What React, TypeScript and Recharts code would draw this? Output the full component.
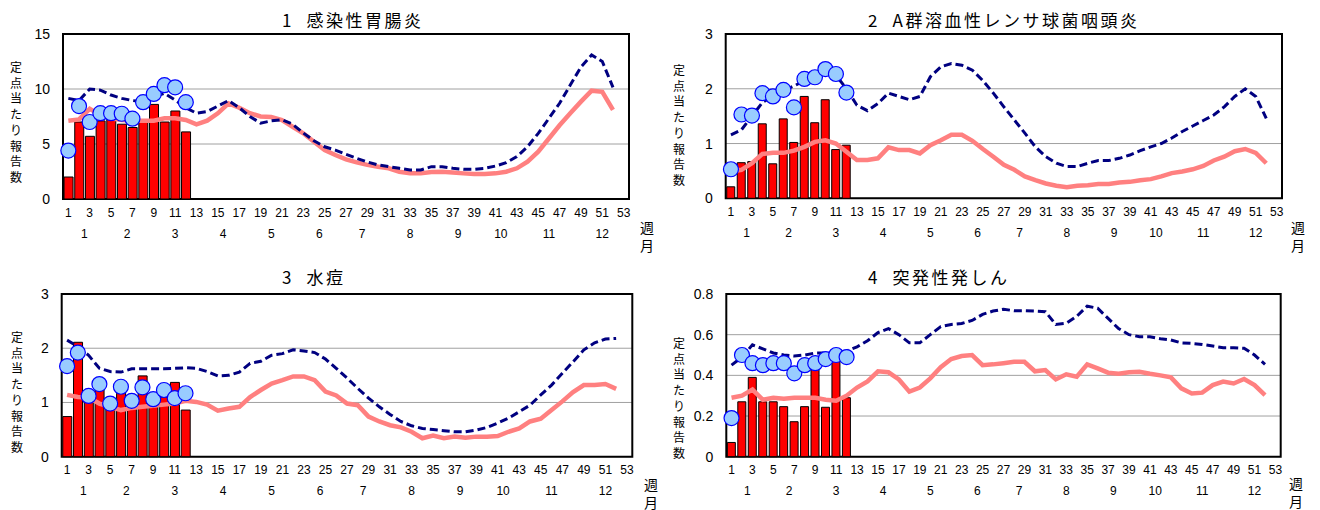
import React from "react";
import {
  ComposedChart, Bar, Line, XAxis, YAxis, CartesianGrid, ReferenceArea,
} from "recharts";

// week categories and month tick positions (centre of each month's weeks)
const weeks = Array.from({ length: 53 }, (_, i) => i + 1);
const monthTicks = [2.5, 6.5, 11, 15.5, 20, 24.5, 28.5, 33, 37.5, 41.5, 46, 51];
const monthLabels = ["1", "2", "3", "4", "5", "6", "7", "8", "9", "10", "11", "12"];

// 1 感染性胃腸炎
const gastroBars = [2.0, 7.0, 5.7, 7.1, 7.3, 6.8, 6.5, 7.0, 8.6, 7.0, 8.0, 6.1];
const gastroDots = [4.4, 8.45, 7.0, 7.8, 7.8, 7.75, 7.3, 8.8, 9.55, 10.35, 10.15, 8.8];
const gastroDashed = [
  9.15, 8.95, 10.0, 9.9, 9.45, 9.15, 8.95, 8.85, 9.3, 9.6, 9.0, 8.3, 7.8, 7.95, 8.45, 8.95,
  8.3, 7.5, 6.9, 7.1, 7.2, 6.8, 6.0, 5.3, 4.75, 4.45, 4.06, 3.7, 3.36, 3.1, 2.94, 2.79,
  2.64, 2.64, 2.94, 2.94, 2.79, 2.7, 2.7, 2.79, 3.0, 3.3, 3.85, 4.75, 5.97, 7.33, 8.7, 10.36,
  12.0, 13.1, 12.5, 10.15,
];
const gastroPink = [
  7.12, 7.24, 8.2, 7.64, 7.33, 7.18, 7.12, 7.12, 7.12, 7.33, 7.33, 7.18, 6.79, 7.12, 7.79, 8.7,
  8.3, 7.8, 7.5, 7.45, 7.18, 6.57, 5.97, 5.2, 4.45, 4.0, 3.6, 3.33, 3.1, 2.94, 2.79, 2.48,
  2.33, 2.33, 2.45, 2.48, 2.4, 2.33, 2.27, 2.27, 2.33, 2.48, 2.79, 3.4, 4.3, 5.5, 6.7, 7.8,
  8.85, 9.85, 9.75, 8.1,
];

// 2 A群溶血性レンサ球菌咽頭炎
const strepBars = [0.21, 0.65, 0.67, 1.36, 0.63, 1.45, 1.02, 1.86, 1.38, 1.8, 0.89, 0.97];
const strepDots = [0.53, 1.53, 1.51, 1.92, 1.86, 1.98, 1.66, 2.18, 2.21, 2.36, 2.27, 1.93];
const strepDashed = [
  1.16, 1.25, 1.5, 1.75, 1.87, 1.97, 2.05, 2.15, 2.2, 2.3, 2.25, 2.0, 1.7, 1.6, 1.73, 1.92,
  1.86, 1.8, 1.86, 2.22, 2.4, 2.46, 2.43, 2.34, 2.15, 1.92, 1.67, 1.43, 1.19, 0.94, 0.76, 0.64,
  0.58, 0.58, 0.64, 0.69, 0.69, 0.73, 0.79, 0.87, 0.94, 1.0, 1.1, 1.22, 1.32, 1.42, 1.52, 1.67,
  1.86, 2.0, 1.86, 1.46,
];
const strepPink = [
  0.49, 0.52, 0.64, 0.81, 0.83, 0.83, 0.87, 0.94, 1.03, 1.06, 1.0, 0.85, 0.7, 0.7, 0.73, 0.93,
  0.88, 0.88, 0.82, 0.97, 1.06, 1.16, 1.16, 1.05, 0.9, 0.76, 0.61, 0.52, 0.4, 0.33, 0.27, 0.23,
  0.2, 0.23, 0.24, 0.26, 0.26, 0.29, 0.3, 0.33, 0.35, 0.4, 0.46, 0.49, 0.53, 0.59, 0.69, 0.76,
  0.86, 0.9, 0.83, 0.64,
];

// 3 水痘
const varicellaBars = [0.74, 2.11, 1.04, 1.23, 0.95, 1.17, 1.01, 1.49, 1.01, 1.1, 1.37, 0.86];
const varicellaDots = [1.67, 1.92, 1.12, 1.34, 0.98, 1.29, 1.03, 1.28, 1.06, 1.23, 1.08, 1.17];
const varicellaDashed = [
  2.15, 2.03, 1.87, 1.63, 1.57, 1.56, 1.62, 1.62, 1.62, 1.62, 1.63, 1.64, 1.63, 1.57, 1.49, 1.5,
  1.56, 1.72, 1.76, 1.87, 1.9, 1.97, 1.95, 1.92, 1.8, 1.63, 1.45, 1.26, 1.08, 0.92, 0.78, 0.65,
  0.57, 0.52, 0.5, 0.48, 0.46, 0.46, 0.49, 0.54, 0.62, 0.71, 0.83, 0.95, 1.14, 1.32, 1.54, 1.75,
  1.97, 2.1, 2.17, 2.18,
];
const varicellaPink = [
  1.14, 1.1, 1.09, 0.98, 0.92, 0.86, 0.9, 0.92, 0.94, 0.96, 0.98, 1.03, 1.01, 0.96, 0.85, 0.89,
  0.92, 1.1, 1.23, 1.35, 1.41, 1.48, 1.48, 1.41, 1.2, 1.13, 0.98, 0.95, 0.74, 0.65, 0.58, 0.54,
  0.46, 0.34, 0.39, 0.34, 0.37, 0.35, 0.37, 0.37, 0.38, 0.46, 0.52, 0.65, 0.7, 0.86, 1.02, 1.19,
  1.32, 1.32, 1.34, 1.25,
];

// 4 突発性発しん
const exanthemBars = [0.07, 0.27, 0.39, 0.27, 0.27, 0.246, 0.172, 0.246, 0.45, 0.243, 0.47, 0.29];
const exanthemDots = [0.19, 0.5, 0.46, 0.45, 0.46, 0.46, 0.41, 0.45, 0.46, 0.48, 0.5, 0.49];
const exanthemDashed = [
  0.45, 0.49, 0.55, 0.53, 0.51, 0.5, 0.495, 0.5, 0.51, 0.51, 0.51, 0.52, 0.54, 0.57, 0.61, 0.63,
  0.6, 0.56, 0.56, 0.6, 0.64, 0.65, 0.655, 0.67, 0.7, 0.716, 0.725, 0.718, 0.718, 0.716, 0.713, 0.65,
  0.656, 0.69, 0.74, 0.73, 0.68, 0.63, 0.6, 0.59, 0.59, 0.58, 0.574, 0.56, 0.557, 0.552, 0.544, 0.536,
  0.536, 0.533, 0.5, 0.454,
];
const exanthemPink = [
  0.29, 0.3, 0.33, 0.28, 0.29, 0.285, 0.29, 0.29, 0.29, 0.28, 0.275, 0.3, 0.34, 0.37, 0.42, 0.415,
  0.38, 0.32, 0.34, 0.385, 0.44, 0.48, 0.495, 0.5, 0.45, 0.454, 0.46, 0.467, 0.467, 0.42, 0.426, 0.38,
  0.405, 0.393, 0.454, 0.434, 0.413, 0.408, 0.415, 0.418, 0.408, 0.4, 0.39, 0.336, 0.311, 0.315, 0.352, 0.369,
  0.36, 0.382, 0.352, 0.303,
];

const yLabel = "定点当たり報告数";
const uiFont = "'Noto Sans CJK JP', 'Noto Sans', sans-serif";
const numFont = "'Liberation Sans', Arial, sans-serif";

const panels = [
  {
    title: "1  感染性胃腸炎", bars: gastroBars, dots: gastroDots, dashed: gastroDashed, pink: gastroPink,
    yMax: 15, yTicks: [0, 5, 10, 15],
    left: 0, top: 0, axisW: 63, margin: { top: 34, right: 31, left: 0, bottom: 16 },
    titleAt: [282, 20], labelAt: [16, 67], unitAt: [647, 227],
  },
  {
    title: "2  A群溶血性レンサ球菌咽頭炎", bars: strepBars, dots: strepDots, dashed: strepDashed, pink: strepPink,
    yMax: 3, yTicks: [0, 1, 2, 3],
    left: 660, top: 0, axisW: 65.7, margin: { top: 34, right: 38, left: 0, bottom: 16.7 },
    titleAt: [868, 20], labelAt: [679, 70], unitAt: [1298, 227],
  },
  {
    title: "3  水痘", bars: varicellaBars, dots: varicellaDots, dashed: varicellaDashed, pink: varicellaPink,
    yMax: 3, yTicks: [0, 1, 2, 3],
    left: 0, top: 255, axisW: 61.7, margin: { top: 39, right: 27.7, left: 0, bottom: 13.3 },
    titleAt: [282, 276.5], labelAt: [17, 337], unitAt: [651, 484],
  },
  {
    title: "4  突発性発しん", bars: exanthemBars, dots: exanthemDots, dashed: exanthemDashed, pink: exanthemPink,
    yMax: 0.8, yTicks: [0, 0.2, 0.4, 0.6, 0.8],
    left: 660, top: 255, axisW: 66.3, margin: { top: 39, right: 39.3, left: 0, bottom: 13.3 },
    titleAt: [868, 276.5], labelAt: [679, 343], unitAt: [1296, 483],
  },
];

const fmtY = (v: number) => (v === 0 ? "0" : Number.isInteger(v) ? String(v) : v.toFixed(1));

const Panel = ({ p }: { p: (typeof panels)[number] }) => {
  const data = weeks.map((w, i) => ({
    week: w,
    bar: p.bars[i] ?? null,
    dot: p.dots[i] ?? null,
    dashed: p.dashed[i] ?? null,
    pink: p.pink[i] ?? null,
  }));

  return (
    <div style={{ position: "absolute", left: p.left, top: p.top, width: 660, height: 255 }}>
      <ComposedChart width={660} height={255} data={data} margin={p.margin} barCategoryGap="10%">
        <CartesianGrid vertical={false} stroke="#a0a0a0" strokeWidth={1} />
        <ReferenceArea
          xAxisId="b" x1={0.5} x2={53.5} y1={0} y2={p.yMax}
          fill="none" stroke="#000" strokeWidth={2} fillOpacity={0}
        />
        {/* weeks, next to the plot */}
        <XAxis
          xAxisId="a" dataKey="week" type="category" interval={1} height={20}
          axisLine={false} tickLine={false} tickSize={6} tickMargin={3}
          tick={{ fontSize: 12, fill: "#000", fontFamily: numFont }}
        />
        {/* months, second row */}
        <XAxis
          xAxisId="b" dataKey="week" type="number" domain={[0.5, 53.5]} allowDataOverflow
          ticks={monthTicks} interval={0} height={20}
          axisLine={false} tickLine={false} tickSize={6} tickMargin={4}
          tickFormatter={(v: number) => monthLabels[monthTicks.indexOf(v)] ?? ""}
          tick={{ fontSize: 12, fill: "#000", fontFamily: numFont }}
        />
        <YAxis
          width={p.axisW} domain={[0, p.yMax]} ticks={p.yTicks} interval={0}
          axisLine={false} tickLine={false} tickSize={6} tickMargin={7}
          tickFormatter={fmtY}
          tick={{ fontSize: 14, fill: "#000", fontFamily: numFont }}
        />
        <Bar xAxisId="a" dataKey="bar" fill="#ff0000" stroke="#000" strokeWidth={1} isAnimationActive={false} />
        <Line
          xAxisId="a" dataKey="pink" stroke="#ff8080" strokeWidth={4.5} dot={false}
          type="linear" isAnimationActive={false}
        />
        <Line
          xAxisId="a" dataKey="dashed" stroke="#000080" strokeWidth={3} strokeDasharray="8 4"
          dot={false} type="linear" isAnimationActive={false}
        />
        <Line
          xAxisId="a" dataKey="dot" stroke="none" strokeWidth={0}
          dot={{ r: 7.5, fill: "#99ccff", stroke: "#0000ff", strokeWidth: 1.2 }}
          activeDot={false} isAnimationActive={false}
        />
      </ComposedChart>
    </div>
  );
};

const Overlay = ({ p }: { p: (typeof panels)[number] }) => (
  <>
    <div
      style={{
        position: "absolute", left: p.titleAt[0], top: p.titleAt[1] - 11, height: 22, lineHeight: "22px",
        fontSize: 17, letterSpacing: 2.5, whiteSpace: "pre", fontFamily: uiFont, color: "#000",
      }}
    >
      {p.title}
    </div>
    {yLabel.split("").map((c, i) => (
      <div
        key={i}
        style={{
          position: "absolute", left: p.labelAt[0] - 8, top: p.labelAt[1] - 7 + i * 15.7, width: 16,
          height: 14, lineHeight: "14px", textAlign: "center",
          fontSize: 12, fontFamily: uiFont, color: "#000",
        }}
      >
        {c}
      </div>
    ))}
    {["週", "月"].map((c, i) => (
      <div
        key={c}
        style={{
          position: "absolute", left: p.unitAt[0] - 9, top: p.unitAt[1] - 8 + i * 17.5, width: 18,
          height: 16, lineHeight: "16px", textAlign: "center", fontSize: 14, fontFamily: uiFont, color: "#000",
        }}
      >
        {c}
      </div>
    ))}
  </>
);

export default function App() {
  return (
    <div style={{ position: "absolute", left: 0, top: 0, width: 1320, height: 510, background: "#fff", overflow: "hidden" }}>
      {panels.map((p, i) => (
        <Panel key={i} p={p} />
      ))}
      {panels.map((p, i) => (
        <Overlay key={`o${i}`} p={p} />
      ))}
    </div>
  );
}
